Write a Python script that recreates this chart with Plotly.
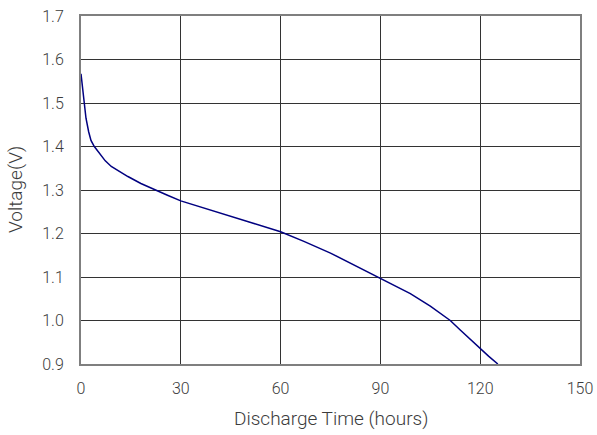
import plotly.graph_objects as go

time_h = [0, 0.5, 1.0, 1.5, 2.3, 3.0, 4.0, 5.7, 7.3, 9.1, 11.5, 14.1, 18, 22.2, 26, 30, 37, 45,
          52, 60, 67, 75, 82, 90, 95, 99, 105, 111, 114, 117, 120, 122.5, 125.3]
voltage = [1.567, 1.535, 1.50, 1.465, 1.434, 1.414, 1.40, 1.382, 1.367, 1.354, 1.342, 1.331,
           1.315, 1.30, 1.288, 1.275, 1.258, 1.240, 1.223, 1.204, 1.182, 1.155, 1.128,
           1.098, 1.078, 1.062, 1.033, 1.000, 0.978, 0.956, 0.934, 0.918, 0.90]

x_ticks = [0, 30, 60, 90, 120, 150]
y_ticks = [0.9, 1.0, 1.1, 1.2, 1.3, 1.4, 1.5, 1.6, 1.7]
x_title = "Discharge Time (hours)"
y_title = "Voltage(V)"

fig = go.Figure()
fig.add_trace(go.Scatter(x=time_h, y=voltage, mode="lines",
                         line=dict(color="#000080", width=1.5),
                         showlegend=False))

tick_font = dict(family="Roboto, Noto Sans, sans-serif", size=16, color="#3c3c3c", weight=300)
title_font = dict(family="Roboto, Noto Sans, sans-serif", size=19, color="#3c3c3c", weight=300)
fig.update_layout(
    width=597, height=435,
    margin=dict(l=81, r=17, t=16, b=71),
    paper_bgcolor="white", plot_bgcolor="white",
    font=tick_font,
    xaxis=dict(range=[0, 150], tickvals=x_ticks, ticktext=[str(v) for v in x_ticks],
               tickfont=tick_font,
               showgrid=True, gridcolor="#333333", gridwidth=1,
               showline=True, linecolor="#7f7f7f", linewidth=2, mirror=True,
               zeroline=False, ticks="", automargin=False, ticklabelstandoff=9,
               ticklabeloverflow="allow"),
    yaxis=dict(range=[0.9, 1.7], tickvals=y_ticks, ticktext=[f"{v:.1f}" for v in y_ticks],
               tickfont=tick_font,
               showgrid=True, gridcolor="#333333", gridwidth=1,
               showline=True, linecolor="#7f7f7f", linewidth=2, mirror=True,
               zeroline=False, ticks="", automargin=False, ticklabelstandoff=12,
               ticklabeloverflow="allow"),
    annotations=[
        dict(text=x_title, xref="paper", yref="paper", x=0.5, y=0,
             xanchor="center", yanchor="middle", yshift=-54, showarrow=False, font=title_font),
        dict(text=y_title, xref="paper", yref="paper", x=0, y=0.5,
             xanchor="center", yanchor="middle", xshift=-66, textangle=-90,
             showarrow=False, font=title_font),
    ],
)
fig.write_html("out.html", config={"displayModeBar": False},
               post_script="document.body.style.margin='0';document.body.style.overflow='hidden';")
